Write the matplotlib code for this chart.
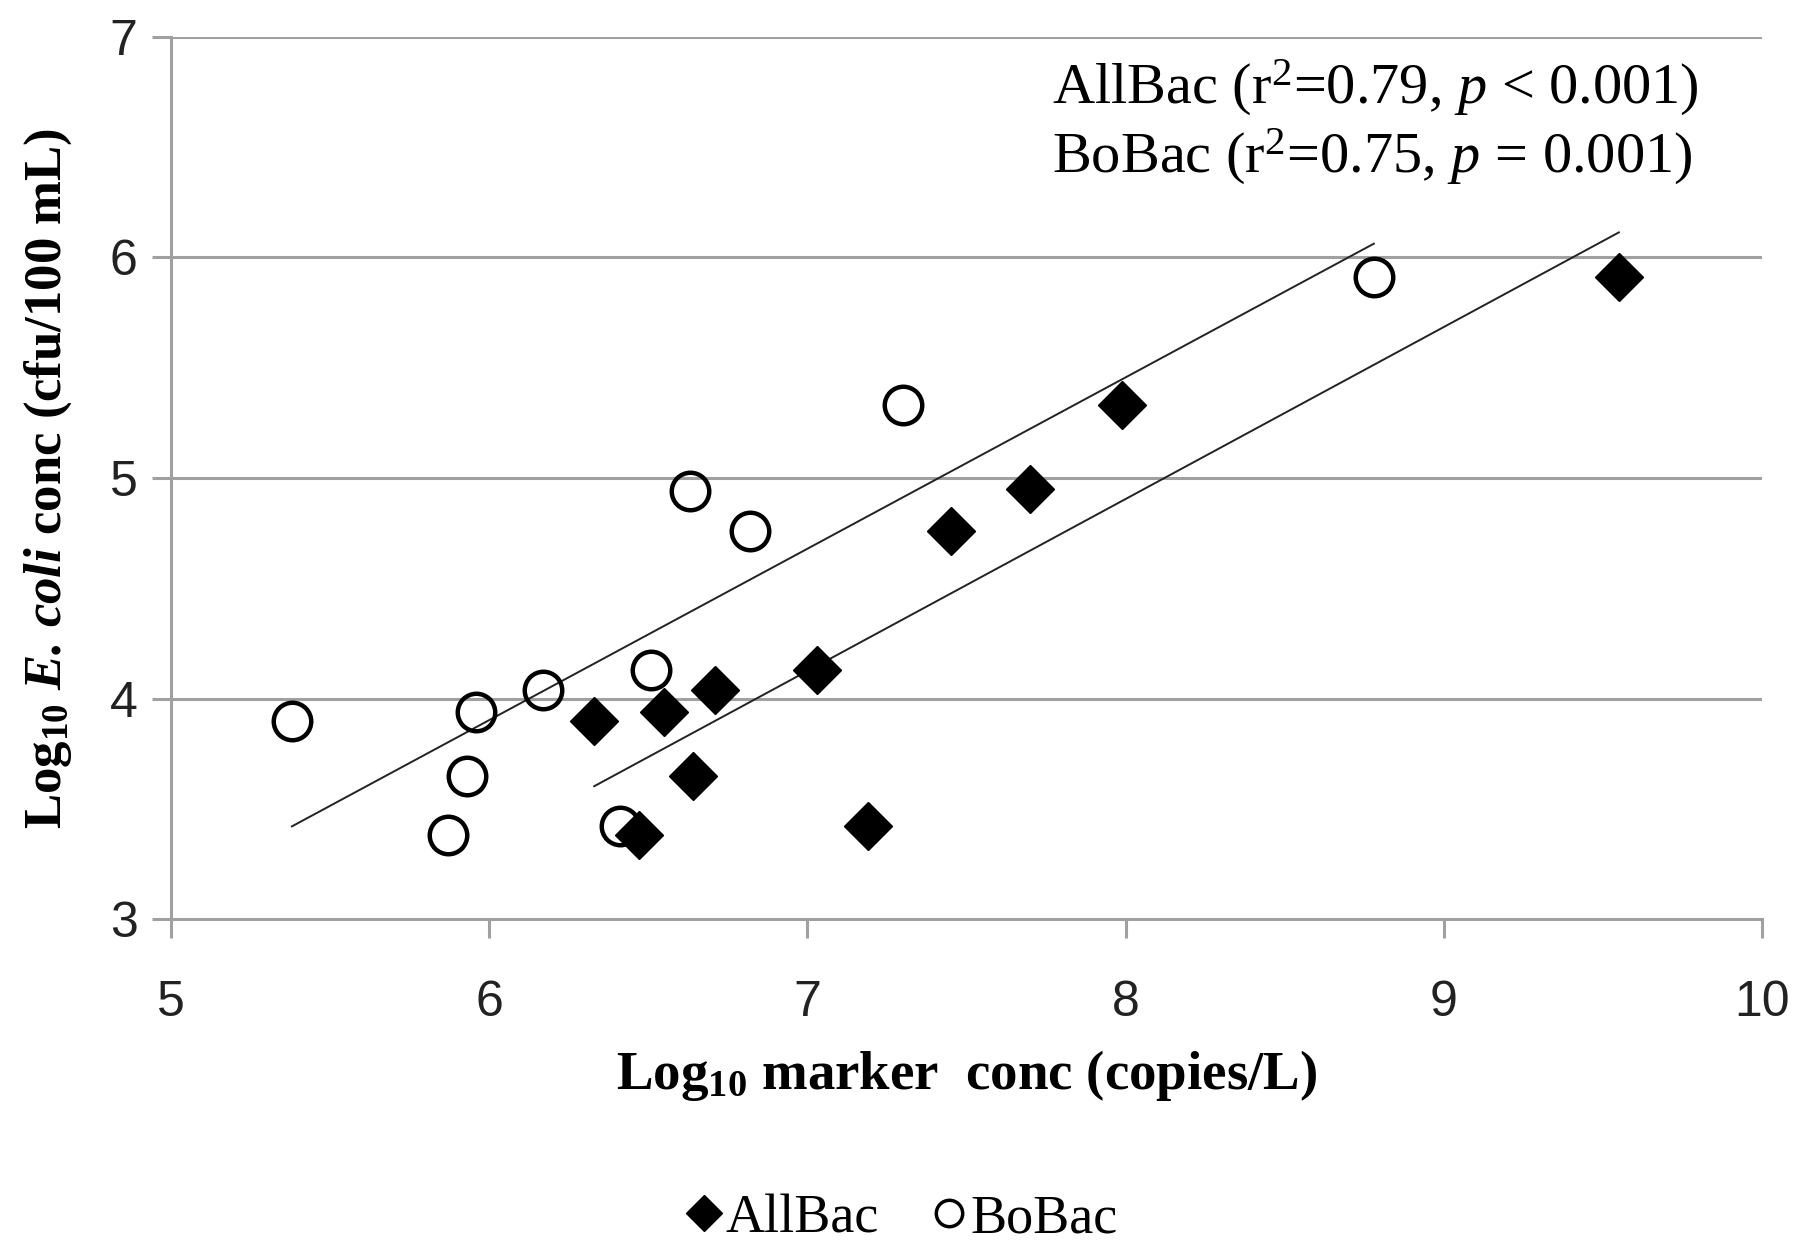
import numpy as np
import matplotlib
matplotlib.use("Agg")
import matplotlib.pyplot as plt
from matplotlib.lines import Line2D

plt.rcParams['mathtext.fontset'] = 'custom'
plt.rcParams['mathtext.rm'] = 'Liberation Serif'
plt.rcParams['mathtext.it'] = 'Liberation Serif:italic'
plt.rcParams['mathtext.bf'] = 'Liberation Serif:bold'
plt.rcParams['mathtext.bfit'] = 'Liberation Serif:bold:italic'

# Data
allbac_x = [6.33, 6.47, 6.55, 6.64, 6.71, 7.03, 7.19, 7.45, 7.70, 7.99, 9.55]
allbac_y = [3.90, 3.38, 3.94, 3.65, 4.04, 4.13, 3.42, 4.76, 4.95, 5.33, 5.91]
bobac_x = [5.38, 5.87, 5.93, 5.96, 6.17, 6.41, 6.51, 6.63, 6.82, 7.30, 8.78]
bobac_y = [3.90, 3.38, 3.65, 3.94, 4.04, 3.42, 4.13, 4.94, 4.76, 5.33, 5.91]

xticks = [5, 6, 7, 8, 9, 10]
yticks = [3, 4, 5, 6, 7]

fig = plt.figure(figsize=(17.98, 12.45), dpi=100)
ax = fig.add_axes([0.0951, 0.2618, 0.8849, 0.7085])

grid_c = '#a0a0a0'
for yv in yticks[1:]:
    ax.axhline(yv, color=grid_c, lw=2.2, zorder=0)

# trendlines
for xs, ys in [(bobac_x, bobac_y), (allbac_x, allbac_y)]:
    m, b = np.polyfit(xs, ys, 1)
    xx = np.array([min(xs), max(xs)])
    ax.plot(xx, m * xx + b, color='#222222', lw=1.4, zorder=2)

ax.plot(allbac_x, allbac_y, linestyle='none', marker='D', ms=24, mfc='black',
        mec='black', mew=1, zorder=3)
ax.plot(bobac_x, bobac_y, linestyle='none', marker='o', ms=27, mfc='none',
        mec='black', mew=3.2, zorder=4)

ax.set_xlim(5, 10)
ax.set_ylim(3, 7)
ax.set_xticks(xticks)
ax.set_yticks(yticks)
for s in ['top', 'right']:
    ax.spines[s].set_visible(False)
for s in ['left', 'bottom']:
    ax.spines[s].set_color(grid_c)
    ax.spines[s].set_linewidth(2.2)
ax.tick_params(axis='both', direction='out', length=14, width=2.2, color=grid_c,
               labelsize=36, labelcolor='#222222')
ax.tick_params(axis='y', pad=10)
ax.tick_params(axis='x', pad=30)
for lab in ax.get_xticklabels() + ax.get_yticklabels():
    lab.set_fontfamily('Liberation Sans')

ax.set_xlabel(r"$\mathbf{Log_{10}}$ marker  conc (copies/L)", fontfamily='Liberation Serif',
              fontweight='bold', fontsize=39.5, labelpad=16)
ax.set_ylabel(r"$\mathbf{Log_{10}}$ $\mathbfit{E.}\,\mathbfit{coli}$ conc (cfu/100 mL)",
              fontfamily='Liberation Serif', fontweight='bold', fontsize=38, labelpad=26)

ax.text(0.554, 0.942, r"AllBac (r$^{2}$=0.79, $p$ < 0.001)", transform=ax.transAxes,
        fontfamily='Liberation Serif', fontsize=42, va='center', ha='left')
ax.text(0.554, 0.864, r"BoBac (r$^{2}$=0.75, $p$ = 0.001)", transform=ax.transAxes,
        fontfamily='Liberation Serif', fontsize=42, va='center', ha='left')

handles = [Line2D([], [], linestyle='none', marker='D', ms=18, mfc='black', mec='black'),
           Line2D([], [], linestyle='none', marker='o', ms=19, mfc='none', mec='black', mew=2.5)]
fig.legend(handles, ['AllBac', 'BoBac'], loc='center', bbox_to_anchor=(0.502, 0.021),
           ncol=2, frameon=False, prop={'family': 'Liberation Serif', 'size': 39},
           handlelength=0.6, handletextpad=0.1, columnspacing=1.0)

fig.savefig('out.png', dpi=100)
